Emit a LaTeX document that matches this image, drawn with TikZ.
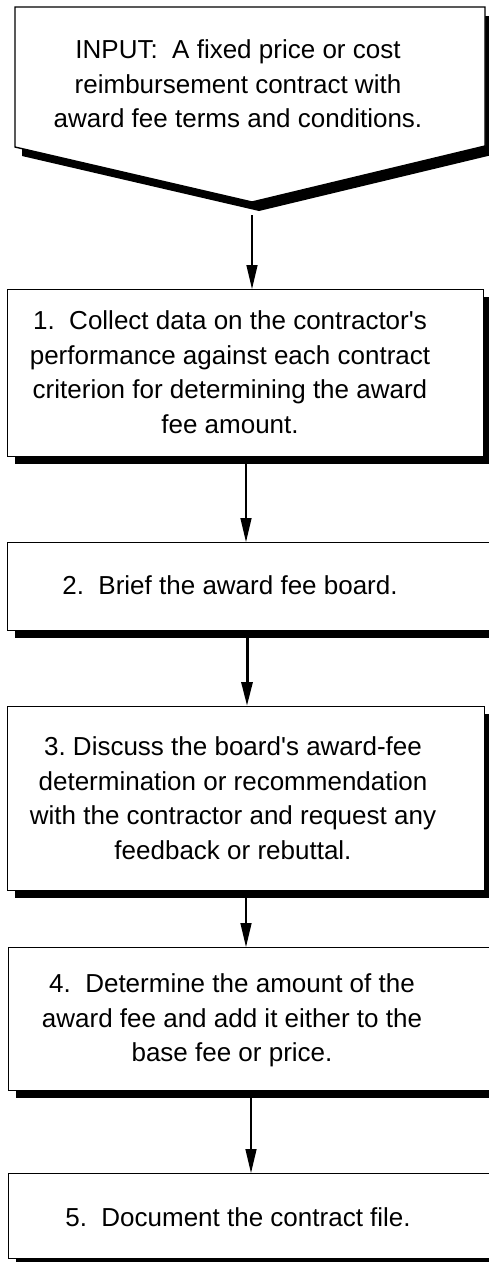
\documentclass[tikz,border=0pt]{standalone}
\usepackage{fontspec}
\setmainfont{Liberation Sans}
\usetikzlibrary{arrows.meta}
\frenchspacing
\begin{document}
\begin{tikzpicture}[x=1pt,y=-1pt,
  box/.style={draw=black, line width=1.4pt, fill=white, inner sep=0pt, anchor=north west},
  shade/.style={fill=black, draw=none, inner sep=0pt, anchor=north west},
  txt/.style={align=center, inner sep=0pt, font=\fontsize{26}{34.5}\selectfont},
  arr/.style={line width=1.4pt, -{Triangle[length=24pt,width=11pt]}},
  thickarr/.style={line width=3pt, -{Triangle[length=24pt,width=11pt]}}]
\useasboundingbox (0,0) rectangle (489,1262);
\clip (0,0) rectangle (489,1262);

% input shape
\fill[black, shift={(7,9)}] (15,7) -- (485,7) -- (485,146) -- (252,202) -- (15,147) -- cycle;
\draw[line width=1.4pt, fill=white] (15,7) -- (485,7) -- (485,146) -- (252,202) -- (15,147) -- cycle;
\node[txt] (tin) at (238,84) {INPUT:~~A fixed price or cost\\reimbursement contract with\\award fee terms and conditions.};
\coordinate (inTip) at (252,215);

% box 1
\node[shade, minimum width=476pt, minimum height=167pt] (s1) at (15,297) {};
\node[box, minimum width=476pt, minimum height=167pt] (b1) at (7,289) {};
\node[txt] (t1) at (230,372) {1.~~Collect data on the contractor\textquotesingle s\\performance against each contract\\criterion for determining the award\\fee amount.};

% box 2
\node[shade, minimum width=493pt, minimum height=88pt] (s2) at (15,550) {};
\node[box, minimum width=493pt, minimum height=88pt] (b2) at (7,542) {};
\node[txt] (t2) at (230,585.5) {2.~~Brief the award fee board.};

% box 3
\node[shade, minimum width=477pt, minimum height=184pt] (s3) at (15,714) {};
\node[box, minimum width=477pt, minimum height=184pt] (b3) at (7,706) {};
\node[txt] (t3) at (233,798) {3. Discuss the board\textquotesingle s award-fee\\determination or recommendation\\with the contractor and request any\\feedback or rebuttal.};

% box 4
\node[shade, minimum width=492pt, minimum height=143pt] (s4) at (16,955) {};
\node[box, minimum width=492pt, minimum height=143pt] (b4) at (8,947) {};
\node[txt] (t4) at (232,1020.5) {4.~~Determine the amount of the\\award fee and add it either to the\\base fee or price.};

% box 5
\node[shade, minimum width=492pt, minimum height=85pt] (s5) at (16,1181) {};
\node[box, minimum width=492pt, minimum height=85pt] (b5) at (8,1173) {};
\node[txt] (t5) at (238,1217.5) {5.~~Document the contract file.};

% arrows
\coordinate (x2) at (246,0);
\coordinate (x3) at (247,0);
\coordinate (x4) at (246,0);
\coordinate (x5) at (251,0);
\draw[arr] (inTip) -- (inTip |- b1.north);
\draw[arr] (s1.south -| x2) -- (b2.north -| x2);
\draw[thickarr] (s2.south -| x3) -- (b3.north -| x3);
\draw[arr] (s3.south -| x4) -- (b4.north -| x4);
\draw[arr] (s4.south -| x5) -- (b5.north -| x5);
\end{tikzpicture}
\end{document}
